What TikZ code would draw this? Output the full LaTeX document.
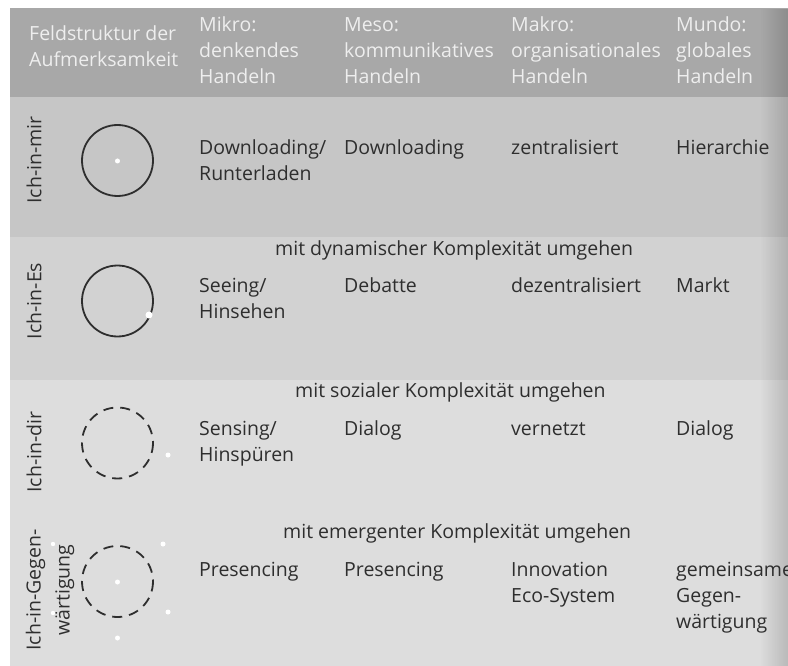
\documentclass[tikz,border=0pt]{standalone}
\usepackage{fontspec}
\usetikzlibrary{fadings}
\setmainfont{Open Sans}
\definecolor{hdrbg}{HTML}{A8A8A8}
\definecolor{rowA}{HTML}{C6C6C6}
\definecolor{rowB}{HTML}{D2D2D2}
\definecolor{rowC}{HTML}{DDDDDD}
\definecolor{hdrtxt}{HTML}{EEEEEE}
\definecolor{bodytxt}{HTML}{2E2E2E}
\tikzfading[name=gutterfade, left color=transparent!100, right color=transparent!0]
\tikzset{
  txt/.style={inner sep=0pt, anchor=base west, align=left, text=bodytxt,
    font=\fontsize{19.5}{26}\selectfont},
  hdr/.style={txt, text=hdrtxt},
  rowlabel/.style={inner sep=0pt, anchor=center, align=center, rotate=90, text=bodytxt,
    font=\fontsize{19.5}{29}\selectfont},
  ring/.style={draw=bodytxt, line width=1.8pt},
  dring/.style={draw=bodytxt, line width=1.8pt, dash pattern=on 10pt off 7pt},
  spot/.style={fill=white, draw=none}
}
\begin{document}
\begin{tikzpicture}[x=1pt,y=-1pt]
\useasboundingbox (0,0) rectangle (788,666);
\fill[white] (0,0) rectangle (788,666);
% bands
\fill[hdrbg] (10,8) rectangle (788,97);
\fill[rowA] (10,97) rectangle (788,237);
\fill[rowB] (10,237) rectangle (788,380);
\fill[rowC] (10,380) rectangle (788,666);
% darker page gutter at the right edge
\fill[black, opacity=0.16, path fading=gutterfade] (760,8) rectangle (788,666);

% header (anchor = baseline of the last line)
\node[hdr] (h0) at (29,67) {Feldstruktur der\\Aufmerksamkeit};
\node[hdr] (h1) at (199,84) {Mikro:\\denkendes\\Handeln};
\node[hdr] (h2) at (344,84) {Meso:\\kommunikatives\\Handeln};
\node[hdr] (h3) at (511,84) {Makro:\\organisationales\\Handeln};
\node[hdr] (h4) at (676,84) {Mundo:\\globales\\Handeln};

% row labels
\node[rowlabel] (r1) at (34,160) {Ich-in-mir};
\node[rowlabel] (r2) at (34,301) {Ich-in-Es};
\node[rowlabel] (r3) at (34,452) {Ich-in-dir};
\node[rowlabel] (r4) at (50,590) {Ich-in-Gegen-\\wärtigung};

% circles
\draw[ring] (117.5,160.5) circle (35.5);
\fill[spot] (117.5,161) circle (2.5);
\draw[ring] (117.5,301) circle (35.5);
\fill[spot] (149,315) circle (3.5);
\draw[dring] (117.5,443) circle (35.5);
\fill[spot] (168,455) circle (2.5);
\draw[dring] (117.5,581.5) circle (35.5);
\fill[spot] (117.5,582) circle (2.5);
\fill[spot] (163,544) circle (2.5);
\fill[spot] (168,612) circle (2.5);
\fill[spot] (117.5,638) circle (2.5);
\fill[spot] (53,544) circle (2.2);
\fill[spot] (53,613) circle (2.2);

% row 1
\node[txt] (a1) at (199,181) {Downloading/\\Runterladen};
\node[txt] (a2) at (344,155) {Downloading};
\node[txt] (a3) at (511,155) {zentralisiert};
\node[txt] (a4) at (676,155) {Hierarchie};

% row 2
\node[txt] (m2) at (275,255) {mit dynamischer Komplexität umgehen};
\node[txt] (b1) at (199,318) {Seeing/\\Hinsehen};
\node[txt] (b2) at (344,292) {Debatte};
\node[txt] (b3) at (511,292) {dezentralisiert};
\node[txt] (b4) at (676,292) {Markt};

% row 3
\node[txt] (m3) at (295,397) {mit sozialer Komplexität umgehen};
\node[txt] (c1) at (199,461) {Sensing/\\Hinspüren};
\node[txt] (c2) at (344,435) {Dialog};
\node[txt] (c3) at (511,435) {vernetzt};
\node[txt] (c4) at (676,435) {Dialog};

% row 4
\node[txt] (m4) at (283,538) {mit emergenter Komplexität umgehen};
\node[txt] (d1) at (199,576) {Presencing};
\node[txt] (d2) at (344,576) {Presencing};
\node[txt] (d3) at (511,602) {Innovation\\Eco-System};
\node[txt] (d4) at (676,628) {gemeinsame\\Gegen-\\wärtigung};
\end{tikzpicture}
\end{document}
